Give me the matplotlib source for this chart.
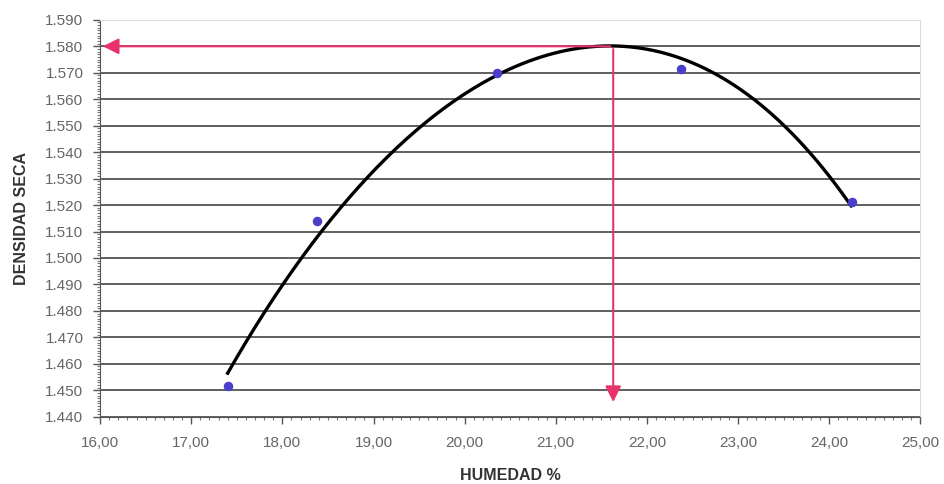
import numpy as np
import matplotlib
matplotlib.use("Agg")
import matplotlib.pyplot as plt
from matplotlib.ticker import FuncFormatter, MultipleLocator

# measured points
humedad = [17.40, 18.38, 20.35, 22.37, 24.25]
densidad = [1.4515, 1.514, 1.570, 1.5715, 1.521]
# points read along the drawn trendline
trend_x = [17.40, 17.83, 18.20, 18.38, 19.52, 20.62, 21.63, 22.37, 22.81, 23.36, 23.91, 24.24]
trend_y = [1.4556, 1.4807, 1.5004, 1.5100, 1.5463, 1.5737, 1.5819, 1.5758, 1.5680, 1.5538, 1.5338, 1.5208]
x_ticks = [16, 17, 18, 19, 20, 21, 22, 23, 24, 25]
y_ticks = [1.44, 1.45, 1.46, 1.47, 1.48, 1.49, 1.50, 1.51, 1.52, 1.53, 1.54, 1.55, 1.56, 1.57, 1.58, 1.59]
opt_humedad = 21.63
opt_densidad = 1.580
arrow_bottom = 1.4445

plt.rcParams["font.family"] = ["Liberation Sans", "DejaVu Sans"]

fig = plt.figure(figsize=(9.44, 4.84), dpi=100)
ax = fig.add_axes([0.106, 0.139, 0.869, 0.82])

ax.set_xlim(16, 25)
ax.set_ylim(1.44, 1.59)
ax.set_xticks(x_ticks)
ax.set_yticks(y_ticks)
ax.xaxis.set_major_formatter(FuncFormatter(lambda v, p: f"{v:.2f}".replace(".", ",")))
ax.yaxis.set_major_formatter(FuncFormatter(lambda v, p: f"{v:.3f}"))
ax.xaxis.set_minor_locator(MultipleLocator(0.1))
ax.yaxis.set_minor_locator(MultipleLocator(0.001))
ax.tick_params(axis="both", which="major", length=5, width=1, color="#555555",
               labelsize=11, labelcolor="#666666")
ax.tick_params(axis="x", which="major", pad=9)
ax.tick_params(axis="y", which="major", pad=7)
ax.tick_params(axis="both", which="minor", length=2.5, width=0.8, color="#777777")
ax.grid(axis="y", which="major", color="#444444", linewidth=1.2)
ax.set_axisbelow(True)

for s in ["top", "right"]:
    ax.spines[s].set_color("#dddddd")
for s in ["left", "bottom"]:
    ax.spines[s].set_color("#555555")

# trendline drawn through the read curve points (polynomial smoothing)
coef = np.polyfit(trend_x, trend_y, 4)
xs = np.linspace(trend_x[0], trend_x[-1], 200)
ax.plot(xs, np.polyval(coef, xs), color="black", linewidth=2.4, zorder=3)

ax.scatter(humedad, densidad, color="#4a3fc9", s=34, marker="o", zorder=4)

pink = "#e8336a"
ax.annotate("", xy=(16.0, opt_densidad), xytext=(opt_humedad, opt_densidad),
            arrowprops=dict(arrowstyle="-|>", color=pink, lw=1.5, mutation_scale=24), zorder=5)
ax.annotate("", xy=(opt_humedad, arrow_bottom), xytext=(opt_humedad, opt_densidad),
            arrowprops=dict(arrowstyle="-|>", color=pink, lw=1.5, mutation_scale=24), zorder=5)

ax.set_xlabel("HUMEDAD %", fontsize=11.5, fontweight="bold", color="#333333", labelpad=13)
ax.set_ylabel("DENSIDAD SECA", fontsize=11.5, fontweight="bold", color="#333333", labelpad=12)

fig.savefig("out.png", dpi=100)
